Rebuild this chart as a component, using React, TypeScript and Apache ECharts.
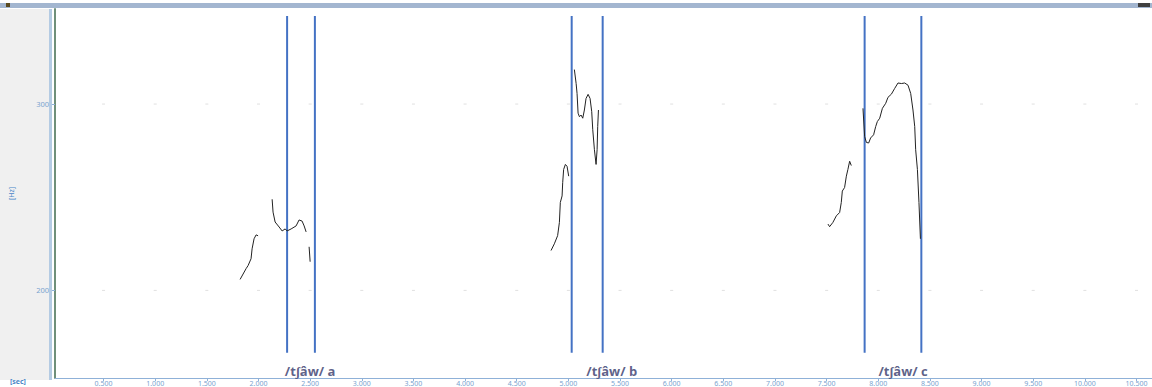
import React, { useEffect, useRef } from "react";
import * as echarts from "echarts";

// ---- data ----
const xTickValues = [0.5, 1, 1.5, 2, 2.5, 3, 3.5, 4, 4.5, 5, 5.5, 6, 6.5, 7, 7.5, 8, 8.5, 9, 9.5, 10, 10.5];
const yTickValues = [200, 300];

const pitchA1 = [[1.822, 205.9], [1.88, 211.7], [1.899, 213.3], [1.928, 217.0], [1.938, 222.3], [1.957, 227.7], [1.977, 229.8], [1.996, 229.3]];
const pitchA2 = [[2.132, 248.9], [2.141, 242.0], [2.161, 236.7], [2.2, 234.0], [2.229, 231.9], [2.258, 233.0], [2.277, 231.9], [2.316, 233.0], [2.364, 234.6], [2.393, 237.8], [2.422, 237.2], [2.442, 234.6], [2.461, 231.4]];
const pitchA3 = [[2.49, 223.4], [2.5, 215.4]];
const pitchB1 = [[4.832, 221.4], [4.864, 225.0], [4.896, 229.4], [4.913, 236.5], [4.922, 247.2], [4.939, 250.7], [4.945, 257.8], [4.954, 264.9], [4.971, 267.6], [4.987, 266.6], [5.003, 261.3]];
const pitchB2 = [[5.058, 318.5], [5.075, 311.0], [5.084, 305.7], [5.094, 295.1], [5.107, 293.2], [5.123, 294.1], [5.139, 292.4], [5.155, 296.8], [5.171, 303.0], [5.191, 305.2], [5.21, 303.0], [5.226, 295.9], [5.236, 286.2], [5.252, 275.5], [5.268, 267.6], [5.278, 275.5], [5.284, 287.9], [5.291, 296.8]];
const pitchC1 = [[7.513, 235.6], [7.529, 234.2], [7.561, 236.5], [7.594, 240.0], [7.626, 241.8], [7.642, 247.2], [7.652, 253.3], [7.674, 255.2], [7.691, 261.3], [7.706, 264.9], [7.723, 269.3], [7.739, 267.0]];
const pitchC2 = [[7.852, 297.7], [7.868, 282.6], [7.885, 279.4], [7.907, 279.1], [7.926, 281.8], [7.955, 283.5], [7.975, 287.9], [7.991, 290.6], [8.014, 292.4], [8.04, 297.7], [8.072, 300.4], [8.094, 303.6], [8.127, 305.3], [8.159, 308.4], [8.191, 311.3], [8.224, 311.0], [8.256, 311.3], [8.288, 310.1], [8.314, 305.7], [8.336, 296.8], [8.353, 287.9], [8.362, 275.5], [8.379, 264.9], [8.394, 247.2], [8.408, 227.7]];
const pitchSegments = [pitchA1, pitchA2, pitchA3, pitchB1, pitchB2, pitchC1, pitchC2];

const boundaryTimes = [2.277, 2.546, 5.032, 5.332, 7.868, 8.417];
const boundaryTop = 347.3;
const boundaryBottom = 166.5;

const wordLabels = ["/tʃâw/ a", "/tʃâw/ b", "/tʃâw/ c"];
const wordLabelTimes = [2.5, 5.42, 8.24];
const wordLabelFreq = 156.5;

export default function App() {
  const ref = useRef<HTMLDivElement>(null);
  useEffect(() => {
    if (!ref.current) return;
    const chart = echarts.init(ref.current, null, { renderer: "svg" });
    const gridDots: number[][] = [];
    yTickValues.forEach((y) => xTickValues.forEach((x) => gridDots.push([x, y])));

    const series: any[] = [];
    series.push({
      type: "scatter",
      data: gridDots,
      symbol: "rect",
      symbolSize: [3, 1],
      itemStyle: { color: "#d8d8d8" },
      silent: true,
      z: 1,
    });
    boundaryTimes.forEach((t) => {
      series.push({
        type: "line",
        data: [[t, boundaryTop], [t, boundaryBottom]],
        symbol: "none",
        lineStyle: { color: "#4472c4", width: 2 },
        z: 3,
      });
    });
    pitchSegments.forEach((seg) => {
      series.push({
        type: "line",
        data: seg,
        symbol: "none",
        lineStyle: { color: "#222222", width: 1 },
        z: 4,
      });
    });
    series.push({
      type: "scatter",
      data: wordLabels.map((w, i) => ({ value: [wordLabelTimes[i], wordLabelFreq], name: w })),
      symbolSize: 0,
      label: {
        show: true,
        position: "inside",
        formatter: (p: any) => p.name,
        color: "#34386a",
        fontSize: 13,
        fontWeight: "bold",
        fontFamily: "Open Sans",
      },
      z: 5,
    });

    chart.setOption({
      animation: false,
      backgroundColor: "#ffffff",
      grid: { left: 55, right: 0, top: 9, bottom: 7 },
      xAxis: {
        type: "value",
        min: 0.03,
        max: 10.65,
        axisLine: { show: true, lineStyle: { color: "#8fb1d8", width: 1 } },
        axisTick: { show: true, customValues: xTickValues, length: 3, lineStyle: { color: "#8fb1d8" } },
        axisLabel: {
          customValues: xTickValues,
          formatter: (v: number) => v.toFixed(3),
          fontSize: 7,
          color: "#7aa3cf",
          margin: 2,
          fontFamily: "Noto Sans",
        },
        splitLine: { show: false },
      },
      yAxis: {
        type: "value",
        min: 153,
        max: 351,
        name: "[Hz]",
        nameLocation: "middle",
        nameRotate: 90,
        nameGap: 40,
        nameTextStyle: { color: "#4a86c8", fontSize: 7, fontFamily: "Noto Sans" },
        axisLine: { show: true, lineStyle: { color: "#6f8f7a", width: 2 } },
        axisTick: { show: true, customValues: yTickValues, length: 3, inside: false, lineStyle: { color: "#8fb1d8" } },
        axisLabel: {
          customValues: yTickValues,
          fontSize: 7.5,
          color: "#7aa3cf",
          margin: 6,
          fontFamily: "Noto Sans",
        },
        splitLine: { show: false },
      },
      graphic: [
        { type: "rect", shape: { x: 0, y: 9, width: 50, height: 371 }, style: { fill: "#f0f0f0" }, z: -10 },
        { type: "rect", shape: { x: 49, y: 9, width: 3, height: 371 }, style: { fill: "#b4cbe3" }, z: 10 },
        { type: "rect", shape: { x: 0, y: 3, width: 1152, height: 5 }, style: { fill: "#a3b6d0" }, z: 10 },
        { type: "rect", shape: { x: 6, y: 3, width: 4, height: 4 }, style: { fill: "#5a4a20" }, z: 11 },
        { type: "rect", shape: { x: 1138, y: 3, width: 12, height: 4 }, style: { fill: "#404040" }, z: 11 },
        {
          type: "text",
          x: 10,
          y: 378,
          style: { text: "[sec]", fill: "#4a86c8", fontSize: 7, fontWeight: "bold", fontFamily: "Noto Sans" },
          z: 10,
        },
      ],
      series,
    });
    return () => chart.dispose();
  }, []);
  return <div ref={ref} style={{ position: "fixed", left: 0, top: 0, width: 1152, height: 387 }} />;
}
